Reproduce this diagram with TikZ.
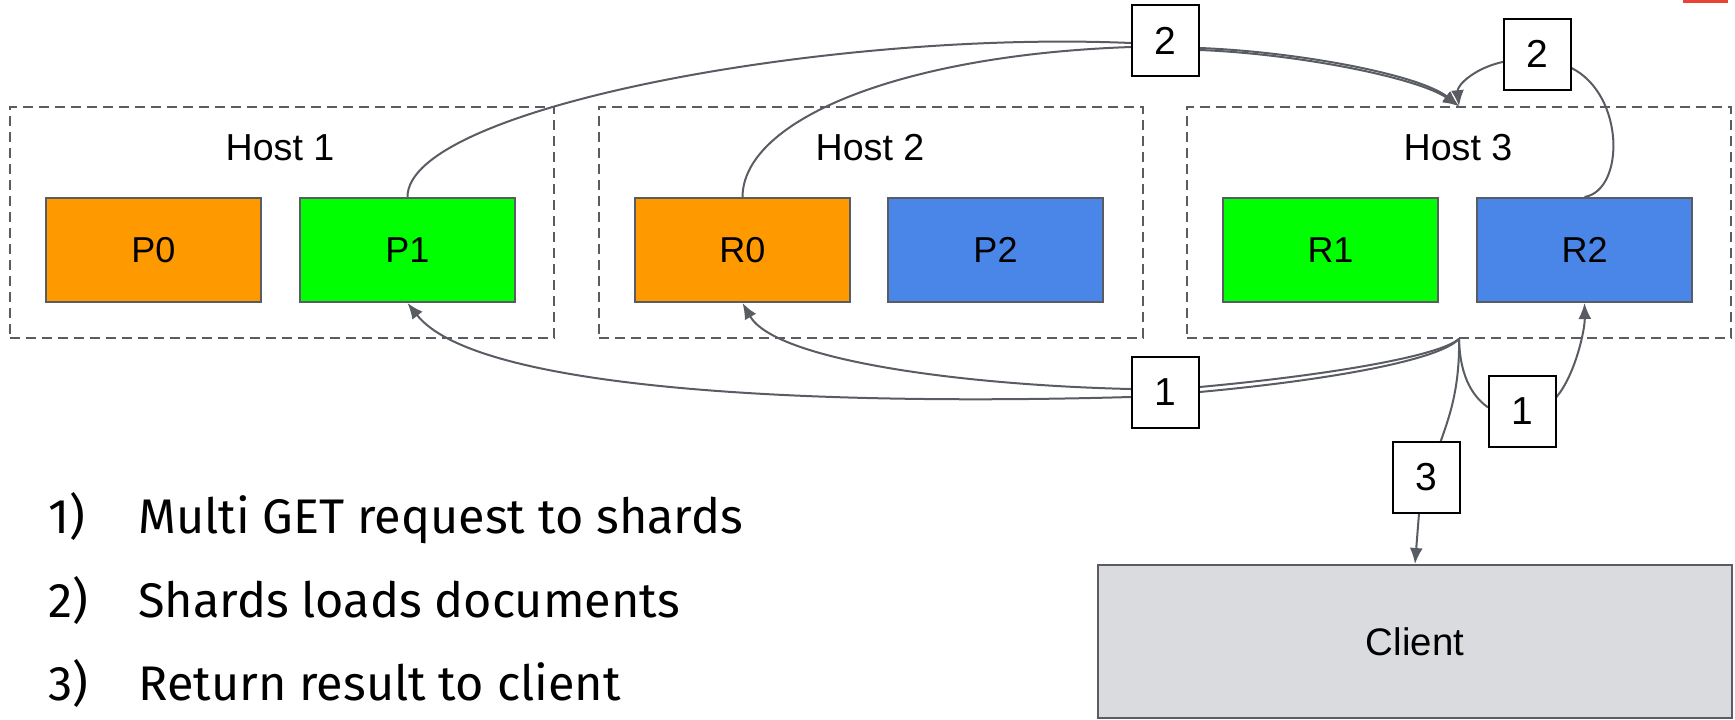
\documentclass[tikz,border=0pt]{standalone}
\usepackage{fontspec}
\setmainfont{Liberation Sans}
\newfontfamily\listfont{Fira Sans}
\usetikzlibrary{arrows.meta}
\definecolor{edgegray}{HTML}{595C62}
\definecolor{shardorange}{HTML}{FF9900}
\definecolor{shardgreen}{HTML}{00FF00}
\definecolor{shardblue}{HTML}{4A86E8}
\definecolor{clientgray}{HTML}{DADBDE}
\definecolor{accentred}{HTML}{EA4335}
\pgfdeclarelayer{front}
\pgfsetlayers{main,front}

\begin{document}
\begin{tikzpicture}[x=0.5pt,y=-0.5pt,
  hostbox/.style={draw=edgegray, dash pattern=on 5pt off 3pt, line width=0.8pt,
    minimum width=272pt, minimum height=115.5pt, inner sep=0pt},
  hostname/.style={inner sep=0pt, font=\fontsize{18.8}{20}\selectfont},
  shard/.style={draw=edgegray, line width=1pt, minimum width=107.5pt,
    minimum height=52pt, inner sep=0pt, font=\fontsize{18}{20}\selectfont},
  steplabel/.style={draw=black, fill=white, line width=1pt, minimum width=33.5pt,
    minimum height=35.5pt, inner sep=0pt, font=\fontsize{19.5}{21}\selectfont},
  flow/.style={draw=edgegray, line width=1pt},
  flowtip/.style={-{Latex[length=8pt,width=6.5pt]}},
  listitem/.style={anchor=base west, inner sep=0pt, font=\listfont\fontsize{24.3}{27}\selectfont}
]
\useasboundingbox (0,0) rectangle (1735,719);

% hosts
\node[hostbox] (h1) at (282,222.5) {};
\node[hostbox] (h2) at (871,222.5) {};
\node[hostbox] (h3) at (1459,222.5) {};
\node[hostname] (h1name) at (280,148) {Host 1};
\node[hostname] (h2name) at (870,148) {Host 2};
\node[hostname] (h3name) at (1458,148) {Host 3};

% shards
\node[shard, fill=shardorange] (P0) at (153.5,250) {P0};
\node[shard, fill=shardgreen]  (P1) at (407.5,250) {P1};
\node[shard, fill=shardorange] (R0) at (742.5,250) {R0};
\node[shard, fill=shardblue]   (P2) at (995.5,250) {P2};
\node[shard, fill=shardgreen]  (R1) at (1330.5,250) {R1};
\node[shard, fill=shardblue]   (R2) at (1584.5,250) {R2};

% client
\node[draw=edgegray, fill=clientgray, line width=1pt, minimum width=317pt,
  minimum height=76.5pt, inner sep=0pt, font=\fontsize{19.2}{21}\selectfont]
  (client) at (1415,641.5) {Client};

% step labels sit above the connectors
\begin{pgfonlayer}{front}
\node[steplabel] (lab2a) at (1165.5,40.5) {2};
\node[steplabel] (lab2b) at (1537,54) {2};
\node[steplabel] (lab1a) at (1165,392) {1};
\node[steplabel] (lab1b) at (1522,411) {1};
\node[steplabel] (lab3)  at (1426,477) {3};
\end{pgfonlayer}

% step 1: requests from host 3 to the shards
\draw[flow,flowtip] (h3.south) .. controls (1440,360) and (1330,380) ..
  (lab1a.east) -- ([yshift=-2.5pt]lab1a.west)
  .. controls (850,405) and (480,395) .. (P1.south);
\draw[flow,flowtip] (h3.south) .. controls (1440,356) and (1330,375) ..
  ([yshift=2.5pt]lab1a.east) -- ([yshift=1.5pt]lab1a.west)
  .. controls (960,385) and (775,360) .. (R0.south);
\draw[flow,flowtip] (h3.south) .. controls (1460,380) and (1475,398) ..
  ([yshift=2pt]lab1b.west) -- ([yshift=7pt]lab1b.east)
  .. controls (1575,375) and (1585,330) .. (R2.south);

% step 2: shards load the documents
\draw[flow,flowtip] (P1.north) .. controls (407,108) and (830,30) ..
  ([yshift=-1.25pt]lab2a.west) -- ([yshift=-3.75pt]lab2a.east)
  .. controls (1300,52) and (1420,75) .. (h3.north);
\draw[flow,flowtip] (R0.north) .. controls (743,120) and (900,55) ..
  ([yshift=-3.25pt]lab2a.west) -- ([yshift=-4.75pt]lab2a.east)
  .. controls (1300,54) and (1418,78) .. (h3.north);
\draw[flow,flowtip] (R2.north) .. controls (1625,190) and (1625,95) ..
  ([yshift=-7pt]lab2b.east) -- ([yshift=-4pt]lab2b.west)
  .. controls (1475,68) and (1457,85) .. (h3.north);

% step 3: result back to the client
\draw[flow,flowtip] (h3.south) .. controls (1460,390) and (1448,420) ..
  ([xshift=7.5pt]lab3.north) -- ([xshift=-3.5pt]lab3.south) -- (client.north);

% legend
\node[listitem] (n1) at (48,533) {1)};
\node[listitem] (t1) at (138,533) {Multi GET request to shards};
\node[listitem] (n2) at (48,617) {2)};
\node[listitem] (t2) at (138,617) {Shards loads documents};
\node[listitem] (n3) at (48,700) {3)};
\node[listitem] (t3) at (138,700) {Return result to client};

% corner mark
\fill[accentred] (1683,0) rectangle (1728,2.5);
\end{tikzpicture}
\end{document}
